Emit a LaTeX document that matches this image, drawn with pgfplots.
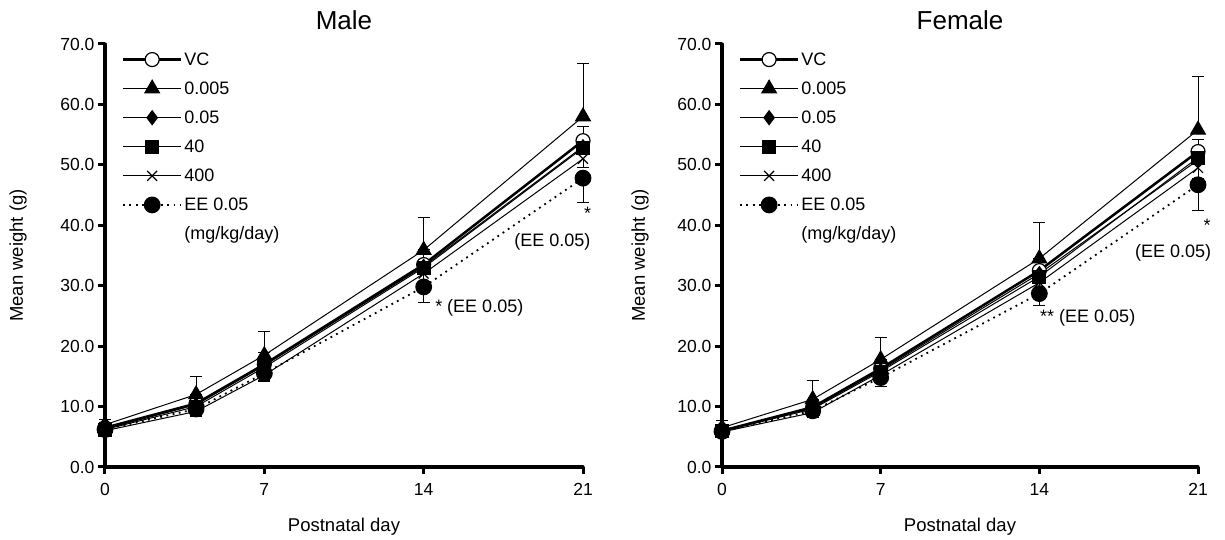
\documentclass[border=0pt]{standalone}
\usepackage{fontspec}
\setmainfont{Liberation Sans}
\usepackage{pgfplots}
\pgfplotsset{compat=1.18}
\tikzset{ann/.style={font=\fontsize{18}{20}\selectfont, inner sep=0pt}}
\pgfplotsset{
  common/.style={
    scale only axis, height=423pt,
    xmin=0,xmax=21,ymin=0,ymax=70,
    axis x line*=bottom, axis y line*=left,
    axis line style={line width=3.2pt, line cap=round},
    xtick={0,7,14,21}, ytick={0,10,...,70},
    tick align=outside, major tick length=7pt,
    tick style={line width=3pt, black},
    /pgf/number format/assume math mode=true,
    yticklabel style={/pgf/number format/fixed, /pgf/number format/fixed zerofill, /pgf/number format/precision=1},
    tick label style={font=\fontsize{17.5}{19}\selectfont},
    xticklabel style={yshift=-6pt},
    label style={font=\fontsize{18.5}{20}\selectfont},
    xlabel={Postnatal day}, ylabel={Mean weight (g)},
    every axis x label/.append style={at={(axis description cs:0.5,-0.142)}, anchor=center},
    title style={font=\fontsize{26}{28}\selectfont, at={(axis description cs:0.5,1.042)}, anchor=center},
    clip=false,
    legend style={draw=none, fill=none, font=\fontsize{18}{20}\selectfont, at={(axis description cs:0.035,0.985)}, anchor=north west, row sep=11pt, inner sep=0pt, cells={anchor=west}},
    legend image code/.code={\draw[mark repeat=2,mark phase=2] plot coordinates {(0pt,0pt)(29pt,0pt)(58pt,0pt)};},
    legend cell align=left,
  },
  vc/.style={black, line width=2.5pt, mark=*, mark size=7pt, mark options={solid, fill=white, draw=black, line width=1.2pt}},
  d005/.style={black, line width=1pt, mark=triangle*, mark size=8.5pt, mark options={solid}},
  d05/.style={black, line width=1pt, mark=diamond*, mark size=7pt, mark options={solid}},
  d40/.style={black, line width=1pt, mark=square*, mark size=6.5pt, mark options={solid}},
  d400/.style={black, line width=1pt, mark=x, mark size=7pt, mark options={solid, line width=1.2pt}},
  ee/.style={black, line width=1.8pt, dash pattern=on 1.8pt off 4.5pt, mark=*, mark size=7.5pt, mark options={solid}},
  ebplus/.style={error bars/.cd, y dir=plus, y explicit, error bar style={line width=1pt, solid}, error mark options={rotate=90, mark size=6pt, line width=1pt}},
  ebminus/.style={error bars/.cd, y dir=minus, y explicit, error bar style={line width=1pt, solid}, error mark options={rotate=90, mark size=6pt, line width=1pt}},
}
\begin{document}
\begin{tikzpicture}
\path[use as bounding box] (0pt,0pt) rectangle (1225pt,540pt);
% ---------------- Male ----------------
\begin{axis}[common, width=478pt, at={(105pt,73pt)}, anchor=south west, title={Male},
  every axis y label/.append style={at={(axis description cs:-0.182,0.5)}, anchor=center}]
\addplot[vc, ebplus] coordinates {(0,6.5)+-(0,0.8) (4,10.5)+-(0,1.5) (7,17.0)+-(0,2.0) (14,33.5)+-(0,2.5) (21,54.0)+-(0,2.3)};
\addlegendentry{VC}
\addplot[d005, ebplus] coordinates {(0,7.0)+-(0,0.8) (4,12.0)+-(0,3.0) (7,18.5)+-(0,4.0) (14,35.9)+-(0,5.4) (21,58.0)+-(0,8.7)};
\addlegendentry{0.005}
\addplot[d05] coordinates {(0,6.3) (4,10.3) (7,16.8) (14,33.2) (21,53.0)};
\addlegendentry{0.05}
\addplot[d40] coordinates {(0,6.2) (4,10.0) (7,16.5) (14,33.0) (21,52.8)};
\addlegendentry{40}
\addplot[d400, ebminus] coordinates {(0,6.0)+-(0,0.6) (4,9.2)+-(0,0.8) (7,15.2)+-(0,1.0) (14,32.0)+-(0,1.5) (21,51.0)+-(0,1.5)};
\addlegendentry{400}
\addplot[ee, ebminus] coordinates {(0,6.2)+-(0,0.8) (4,9.6)+-(0,1.0) (7,15.5)+-(0,1.2) (14,29.8)+-(0,2.6) (21,47.8)+-(0,4.1)};
\addlegendentry{EE 0.05}
\addlegendimage{empty legend}
\addlegendentry{(mg/kg/day)}
\node[ann] at (axis cs:21.2,42.0) {*};
\node[ann] at (axis cs:19.65,37.3) {(EE 0.05)};
\node[ann, anchor=west] at (axis cs:14.5,26.3) {* (EE 0.05)};
\end{axis}
% ---------------- Female ----------------
\begin{axis}[common, width=476pt, at={(722pt,73pt)}, anchor=south west, title={Female},
  every axis y label/.append style={at={(axis description cs:-0.172,0.5)}, anchor=center}]
\addplot[vc, ebplus] coordinates {(0,6.0)+-(0,0.6) (4,9.9)+-(0,1.2) (7,16.3)+-(0,1.5) (14,32.5)+-(0,2.0) (21,52.2)+-(0,2.0)};
\addlegendentry{VC}
\addplot[d005, ebplus] coordinates {(0,6.5)+-(0,1.2) (4,11.2)+-(0,3.1) (7,17.8)+-(0,3.7) (14,34.5)+-(0,6.0) (21,55.8)+-(0,8.9)};
\addlegendentry{0.005}
\addplot[d05] coordinates {(0,6.0) (4,9.8) (7,16.0) (14,32.0) (21,50.8)};
\addlegendentry{0.05}
\addplot[d40] coordinates {(0,5.9) (4,9.6) (7,15.8) (14,31.5) (21,51.2)};
\addlegendentry{40}
\addplot[d400, ebminus] coordinates {(0,5.8)+-(0,0.5) (4,9.0)+-(0,0.8) (7,15.2)+-(0,1.0) (14,30.5)+-(0,1.5) (21,49.5)+-(0,1.8)};
\addlegendentry{400}
\addplot[ee, ebminus] coordinates {(0,5.9)+-(0,0.6) (4,9.3)+-(0,0.8) (7,14.8)+-(0,1.5) (14,28.7)+-(0,2.0) (21,46.7)+-(0,4.2)};
\addlegendentry{EE 0.05}
\addlegendimage{empty legend}
\addlegendentry{(mg/kg/day)}
\node[ann] at (axis cs:21.4,40.0) {*};
\node[ann] at (axis cs:19.9,35.4) {(EE 0.05)};
\node[ann, anchor=west] at (axis cs:14.03,24.7) {** (EE 0.05)};
\end{axis}
\end{tikzpicture}
\end{document}
